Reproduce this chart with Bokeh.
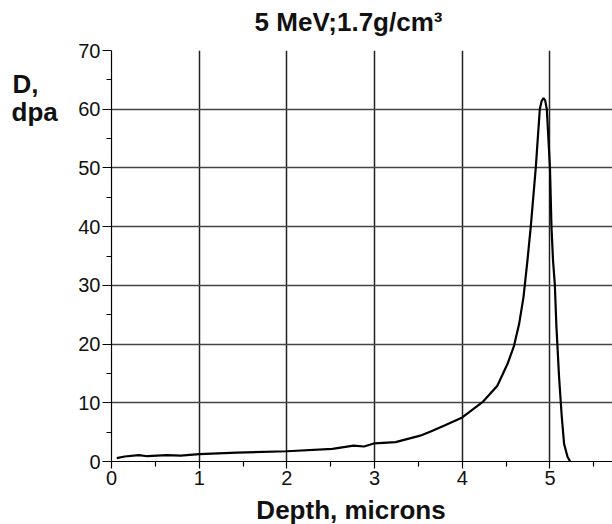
from bokeh.plotting import figure
from bokeh.models import Range1d, FixedTicker
from bokeh.layouts import row, column
from bokeh.core.properties import value
from bokeh.embed import file_html
from bokeh.resources import INLINE

depth = [0.06, 0.15, 0.31, 0.41, 0.63, 0.79, 1.0, 1.43, 2.0, 2.52, 2.76, 2.88, 3.0, 3.24,
         3.52, 3.64, 3.81, 4.0, 4.23, 4.40, 4.515, 4.59, 4.648, 4.698, 4.743, 4.781,
         4.838, 4.884, 4.905, 4.926, 4.945, 4.964, 5.0, 5.017, 5.035, 5.055, 5.074,
         5.104, 5.135, 5.161, 5.2, 5.23]
dose = [0.57, 0.85, 1.1, 0.9, 1.1, 1.0, 1.25, 1.5, 1.75, 2.15, 2.7, 2.55, 3.1, 3.3,
        4.4, 5.1, 6.2, 7.5, 10.1, 12.9, 16.6, 19.7, 23.4, 28.0, 34.2, 40.0,
        50.0, 60.0, 61.4, 61.9, 61.5, 60.0, 50.0, 40.0, 34.2, 30.2, 22.8,
        14.3, 7.5, 3.0, 0.8, 0.0]

x_major = [0, 1, 2, 3, 4, 5, 6]
x_minor = [0.5, 1.5, 2.5, 3.5, 4.5, 5.5]
y_major = [0, 10, 20, 30, 40, 50, 60, 70]
y_minor = [5, 15, 25, 35, 45, 55, 65]
x_grid = [1, 2, 3, 4, 5]
y_grid = [10, 20, 30, 40, 50, 60]

title_text = "5 MeV;1.7g/cm³"
xlabel_text = "Depth, microns"
ylabel_lines = ["D,", "dpa"]

FONT = "Liberation Sans"
TXT = "#111111"

LEFT_STRIP = 68
PAD_L, FRAME_W = 43, 501
PAD_T, FRAME_H, PAD_B = 12, 411, 33
TOP_H, BOT_H = 38, 30

xr = Range1d(0, 5.713)
yr = Range1d(0, 70)


def bare(**kw):
    f = figure(output_backend="svg", toolbar_location=None, title=None,
               x_axis_type=None, y_axis_type=None, **kw)
    f.outline_line_color = None
    f.grid.visible = False
    return f


# main plot
p = figure(frame_width=FRAME_W, frame_height=FRAME_H, output_backend="svg",
           toolbar_location=None, title=None, x_range=xr, y_range=yr,
           min_border_left=PAD_L, min_border_right=0, min_border_top=PAD_T,
           min_border_bottom=PAD_B)
p.outline_line_color = None

for ax, maj, mnr, out in ((p.xaxis[0], x_major, x_minor, 7), (p.yaxis[0], y_major, y_minor, 9)):
    ax.ticker = FixedTicker(ticks=maj, minor_ticks=mnr)
    ax.axis_line_color = "black"
    ax.axis_line_width = 1.2
    ax.major_tick_line_color = "black"
    ax.minor_tick_line_color = "black"
    ax.major_tick_line_width = 1.2
    ax.minor_tick_line_width = 1.2
    ax.major_tick_in = 0
    ax.minor_tick_in = 0
    ax.major_tick_out = out
    ax.minor_tick_out = 5
    ax.major_label_text_font = FONT
    ax.major_label_text_font_size = "20px"
    ax.major_label_text_color = TXT
    ax.major_label_standoff = 2

p.xgrid.ticker = FixedTicker(ticks=x_grid)
p.ygrid.ticker = FixedTicker(ticks=y_grid)
p.xgrid.grid_line_color = "#222222"
p.ygrid.grid_line_color = "#444444"
p.xgrid.grid_line_width = 1.5
p.ygrid.grid_line_width = 1.6

p.line(depth, dose, line_color="black", line_width=2.2)

# left strip: horizontal y-axis label, sharing the main plot's y scale
q = bare(frame_width=LEFT_STRIP, frame_height=FRAME_H, x_range=Range1d(0, LEFT_STRIP),
         y_range=yr, min_border_left=0, min_border_right=0,
         min_border_top=PAD_T, min_border_bottom=PAD_B)
q.text(x=[12, 11], y=[64.35, 59.55], text=ylabel_lines, text_font=value(FONT),
       text_font_style="bold", text_font_size="26px", text_color=TXT,
       text_align="left", text_baseline="alphabetic")

# top strip: title, sharing the main plot's x scale
t = bare(frame_width=FRAME_W, frame_height=TOP_H, x_range=xr, y_range=Range1d(TOP_H, 0),
         min_border_left=LEFT_STRIP + PAD_L, min_border_right=0,
         min_border_top=0, min_border_bottom=0)
t.text(x=[2.703], y=[21.5], text=[title_text], text_font=value(FONT),
       text_font_style="bold", text_font_size="26px", text_color=TXT,
       text_align="center", text_baseline="alphabetic")

# bottom strip: x-axis title
b = bare(frame_width=FRAME_W, frame_height=BOT_H, x_range=xr, y_range=Range1d(BOT_H, 0),
         min_border_left=LEFT_STRIP + PAD_L, min_border_right=0,
         min_border_top=0, min_border_bottom=0)
b.text(x=[2.731], y=[15.1], text=[xlabel_text], text_font=value(FONT),
       text_font_style="bold", text_font_size="26px", text_color=TXT,
       text_align="center", text_baseline="alphabetic")

layout = column(t, row(q, p), b)
open("out.html", "w").write(file_html(layout, INLINE))
